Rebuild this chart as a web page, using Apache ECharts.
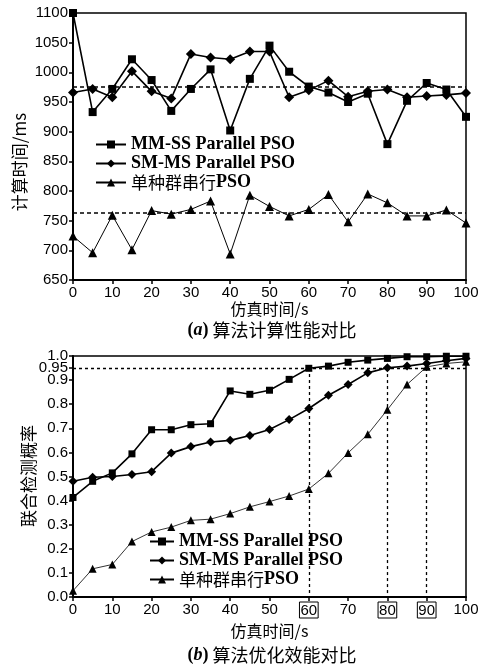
<!DOCTYPE html>
<html>
<head>
<meta charset="utf-8">
<script src="https://cdn.jsdelivr.net/npm/echarts@6/dist/echarts.min.js"></script>
<style>
    html, body { margin: 0; padding: 0; background: #fff; }
    #main { width: 487px; height: 664px; }
</style>
</head>
<body>
<div id="main"></div>
<script>
// x axis: simulation time (s)
const simTime = [0, 5, 10, 15, 20, 25, 30, 35, 40, 45, 50, 55, 60, 65, 70, 75, 80, 85, 90, 95, 100];

// (a) computing time, ms
const timeMMSS = [1100, 933, 972, 1022, 987, 935, 972, 1005, 902, 989, 1045, 1001, 976, 966, 950, 964, 879, 952, 982, 971, 925];
const timeSMMS = [966, 972, 958, 1002, 968, 956, 1031, 1025, 1022, 1035, 1035, 958, 970, 986, 959, 968, 971, 958, 960, 962, 965];
const timeSerial = [724, 696, 759, 701, 767, 761, 769, 783, 694, 793, 774, 758, 769, 794, 748, 795, 780, 758, 758, 768, 746];
const timeRefLines = [976, 763];

// (b) joint detection probability
const probMMSS = [0.413, 0.48, 0.515, 0.594, 0.694, 0.694, 0.715, 0.719, 0.855, 0.841, 0.858, 0.903, 0.949, 0.958, 0.974, 0.983, 0.99, 0.997, 0.997, 0.999, 0.999];
const probSMMS = [0.48, 0.497, 0.50, 0.508, 0.52, 0.597, 0.624, 0.643, 0.65, 0.67, 0.695, 0.736, 0.782, 0.837, 0.882, 0.93, 0.951, 0.958, 0.969, 0.98, 0.99];
const probSerial = [0.026, 0.117, 0.135, 0.23, 0.27, 0.29, 0.318, 0.323, 0.346, 0.374, 0.396, 0.419, 0.448, 0.513, 0.598, 0.675, 0.777, 0.882, 0.955, 0.969, 0.976];
const probTarget = 0.95;
const hitTimes = [60, 80, 90];
const probTicks = [0, 0.1, 0.2, 0.3, 0.4, 0.5, 0.6, 0.7, 0.8, 0.9, 1.0];

const names = ['MM-SS Parallel PSO', 'SM-MS Parallel PSO', '单种群串行PSO'];

const NUM_FONT = 'Liberation Sans';
const SERIF = 'Liberation Serif';
const CJK = 'Noto Sans CJK SC';

function pairs(values) {
    return simTime.map(function (t, i) {
        return [t, values[i]];
    });
}

function makeSeries(name, values, axisIdx, style) {
    return {
        name: name,
        type: 'line',
        xAxisIndex: axisIdx,
        yAxisIndex: axisIdx,
        data: pairs(values),
        symbol: style.symbol,
        symbolSize: style.size,
        showAllSymbol: true,
        lineStyle: {color: '#000', width: style.width},
        itemStyle: {color: '#000'},
        z: 3
    };
}

function xAxisOf(idx, gap, formatter) {
    return {
        type: 'value',
        gridIndex: idx,
        min: 0,
        max: 100,
        interval: 10,
        axisLine: {lineStyle: {color: '#000', width: 2}},
        axisTick: {length: 4, lineStyle: {color: '#000', width: 1.5}},
        axisLabel: {
            color: '#000', fontFamily: NUM_FONT, fontSize: 15, margin: 5,
            showMinLabel: true, showMaxLabel: true,
            formatter: formatter,
            rich: {
                box: {
                    color: '#000', fontFamily: NUM_FONT, fontSize: 15,
                    borderColor: '#000', borderWidth: 1, padding: [1, 1, 0, 1]
                }
            }
        },
        splitLine: {show: false},
        name: '仿真时间/s',
        nameLocation: 'middle',
        nameGap: gap,
        nameTextStyle: {color: '#000', fontFamily: CJK, fontSize: 16}
    };
}

const legendText = {
    color: '#000', fontFamily: SERIF, fontWeight: 'bold', fontSize: 18, lineHeight: 19,
    rich: {
        cn: {fontFamily: CJK, fontWeight: 'normal', fontSize: 17, color: '#000'},
        b: {fontFamily: SERIF, fontWeight: 'bold', fontSize: 18, color: '#000'}
    }
};
function legendFormat(name) {
    if (name === '单种群串行PSO') {
        return '{cn|单种群串行}{b|PSO}';
    }
    return name;
}

const captionRich = {
    p: {fontFamily: SERIF, fontWeight: 'bold', fontSize: 18, color: '#000'},
    i: {fontFamily: SERIF, fontWeight: 'bold', fontStyle: 'italic', fontSize: 18, color: '#000'}
};

let myChart = echarts.init(document.getElementById('main'), null, {renderer: 'canvas'});

let option = {
    animation: false,
    backgroundColor: '#fff',
    title: [
        {
            text: '{p|(}{i|a}{p|)} 算法计算性能对比',
            left: 267, top: 316, textAlign: 'center',
            textStyle: {color: '#000', fontFamily: CJK, fontWeight: 'normal', fontSize: 18, rich: captionRich}
        },
        {
            text: '{p|(}{i|b}{p|)} 算法优化效能对比',
            left: 267, top: 641, textAlign: 'center',
            textStyle: {color: '#000', fontFamily: CJK, fontWeight: 'normal', fontSize: 18, rich: captionRich}
        }
    ],
    graphic: [
        {
            type: 'text', x: 20, y: 162, rotation: Math.PI / 2,
            style: {text: '计算时间/ms', fill: '#000', font: '17px "Noto Sans CJK SC"', align: 'center', verticalAlign: 'middle'}
        },
        {
            type: 'text', x: 29, y: 476, rotation: Math.PI / 2,
            style: {text: '联合检测概率', fill: '#000', font: '17px "Noto Sans CJK SC"', align: 'center', verticalAlign: 'middle'}
        }
    ],
    legend: [
        {
            data: names, orient: 'vertical', left: 90, top: 130,
            itemWidth: 30, itemHeight: 10, itemGap: 0,
            textStyle: legendText, formatter: legendFormat,
            selectedMode: false
        },
        {
            data: names, orient: 'vertical', left: 144, top: 527,
            itemWidth: 24, itemHeight: 10, itemGap: 0,
            textStyle: legendText, formatter: legendFormat,
            selectedMode: false
        }
    ],
    grid: [
        {left: 73, top: 13, width: 393, height: 267, show: true, borderColor: '#000', borderWidth: 1.5},
        {left: 73, top: 356, width: 393, height: 241, show: true, borderColor: '#000', borderWidth: 1.5}
    ],
    xAxis: [
        xAxisOf(0, 21, function (v) {
            return String(v);
        }),
        xAxisOf(1, 26, function (v) {
            return hitTimes.indexOf(v) >= 0 ? '{box|' + v + '}' : String(v);
        })
    ],
    yAxis: [
        {
            type: 'value', gridIndex: 0, min: 650, max: 1100, interval: 50,
            axisLine: {show: true, lineStyle: {color: '#000', width: 2}},
            axisTick: {show: true, length: 4, lineStyle: {color: '#000', width: 1.5}},
            axisLabel: {
                color: '#000', fontFamily: NUM_FONT, fontSize: 15, margin: 5,
                showMinLabel: true, showMaxLabel: true,
                formatter: function (v) {
                    return String(v);
                }
            },
            splitLine: {show: false}
        },
        {
            type: 'value', gridIndex: 1, min: 0, max: 1, interval: 0.1,
            axisLine: {show: true, lineStyle: {color: '#000', width: 2}},
            axisTick: {show: true, length: 4, customValues: probTicks, lineStyle: {color: '#000', width: 1.5}},
            axisLabel: {
                color: '#000', fontFamily: NUM_FONT, fontSize: 15, margin: 5,
                customValues: probTicks,
                showMinLabel: true, showMaxLabel: true,
                formatter: function (v) {
                    return v.toFixed(1);
                }
            },
            splitLine: {show: false}
        },
        {
            // extra label for the 0.95 target level
            type: 'value', gridIndex: 1, min: 0, max: 1, position: 'left',
            axisLine: {show: false},
            axisTick: {show: true, length: 4, customValues: [probTarget], lineStyle: {color: '#000', width: 1.5}},
            axisLabel: {
                color: '#000', fontFamily: NUM_FONT, fontSize: 15, margin: 5,
                customValues: [probTarget],
                formatter: function (v) {
                    return String(v);
                }
            },
            splitLine: {show: false}
        }
    ],
    series: [
        Object.assign(makeSeries(names[0], timeMMSS, 0, {symbol: 'rect', size: 8, width: 1.6}), {
            markLine: {
                silent: true, symbol: 'none', label: {show: false},
                lineStyle: {color: '#000', type: [4, 3], width: 1.5},
                data: timeRefLines.map(function (v) { return {yAxis: v}; })
            }
        }),
        makeSeries(names[1], timeSMMS, 0, {symbol: 'diamond', size: 10, width: 1.6}),
        makeSeries(names[2], timeSerial, 0, {symbol: 'triangle', size: 9, width: 1}),

        Object.assign(makeSeries(names[0], probMMSS, 1, {symbol: 'rect', size: 7, width: 1.6}), {
            markLine: {
                silent: true, symbol: 'none', label: {show: false},
                lineStyle: {color: '#000', type: [3, 3], width: 1.3},
                data: [{yAxis: probTarget}].concat(hitTimes.map(function (t) {
                    return [{coord: [t, probTarget]}, {coord: [t, 0]}];
                }))
            }
        }),
        makeSeries(names[1], probSMMS, 1, {symbol: 'diamond', size: 9, width: 1.6}),
        makeSeries(names[2], probSerial, 1, {symbol: 'triangle', size: 8, width: 0.8})
    ]
};
myChart.setOption(option);
</script>
</body>
</html>
